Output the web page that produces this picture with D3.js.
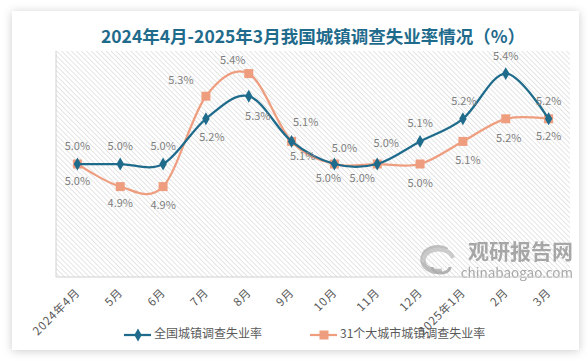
<html>
    <head>
        <title>城镇调查失业率</title>
        <style>
            body { margin: 0; background: #ffffff; }
            text { font-family: "Noto Sans CJK SC", "Noto Sans", sans-serif; }
        </style>
    </head>
    <body>
        <svg></svg>

        <script src="https://d3js.org/d3.v7.min.js"></script>
        <script>
// data
var months = ["2024年4月", "5月", "6月", "7月", "8月", "9月", "10月", "11月", "12月", "2025年1月", "2月", "3月"];
var national = [5.0, 5.0, 5.0, 5.2, 5.3, 5.1, 5.0, 5.0, 5.1, 5.2, 5.4, 5.2];
var bigCities = [5.0, 4.9, 4.9, 5.3, 5.4, 5.1, 5.0, 5.0, 5.0, 5.1, 5.2, 5.2];
var seriesNames = ["全国城镇调查失业率", "31个大城市城镇调查失业率"];

// label placement (dx, dy from the marker)
var nationalLabelPos = [[0,-17],[0,-17],[0,-17],[6,19],[9,21],[14,-18],[10,-15],[9,-20],[0,-17],[1,-17],[0,-17],[0,-17]];
var citiesLabelPos = [[0,18],[0,17],[0,19],[-25,-15],[-16,-13],[11,16],[-6,15],[-15,15],[0,20],[5,20],[3,20],[0,18]];

var blue = "#1f6b8c", orange = "#ee9e7f";

var svg = d3.select("svg")
    .attr("width", 588)
    .attr("height", 361);

var defs = svg.append("defs");

var shadow = defs.append("filter").attr("id", "shadow")
    .attr("x", "-10%").attr("y", "-10%").attr("width", "120%").attr("height", "120%");
shadow.append("feDropShadow")
    .attr("dx", 0).attr("dy", 1)
    .attr("stdDeviation", 5)
    .attr("flood-color", "#000")
    .attr("flood-opacity", 0.2);

var hatch = defs.append("pattern").attr("id", "hatch")
    .attr("patternUnits", "userSpaceOnUse")
    .attr("width", 3.5).attr("height", 3.5)
    .attr("patternTransform", "rotate(-45)");
hatch.append("rect").attr("width", 3.5).attr("height", 3.5).attr("fill", "#fff");
hatch.append("line")
    .attr("x1", 0).attr("y1", 0).attr("x2", 0).attr("y2", 3.5)
    .attr("stroke", "#d4d4d4").attr("stroke-width", 1.2);

// card
svg.append("rect")
    .attr("x", 12).attr("y", 11)
    .attr("width", 567).attr("height", 339)
    .attr("fill", "#fff")
    .attr("filter", "url(#shadow)");

// title
svg.append("text")
    .attr("x", 313).attr("y", 38)
    .attr("text-anchor", "middle")
    .attr("dominant-baseline", "middle")
    .attr("font-size", 17.5)
    .attr("font-weight", "bold")
    .attr("font-family", "Liberation Serif, Noto Sans CJK SC, serif")
    .attr("fill", blue)
    .text("2024年4月-2025年3月我国城镇调查失业率情况（%）");

var plotLeft = 56, plotRight = 570, plotTop = 51, plotBottom = 277;

var x = d3.scalePoint()
    .domain(months)
    .range([plotLeft, plotRight])
    .padding(0.5);

var y = d3.scaleLinear()
    .domain([4.5, 5.5])
    .range([plotBottom, plotTop]);

// plot area
svg.append("rect")
    .attr("x", plotLeft).attr("y", plotTop)
    .attr("width", plotRight - plotLeft).attr("height", plotBottom - plotTop)
    .attr("fill", "url(#hatch)");

svg.append("line")
    .attr("x1", plotLeft).attr("x2", plotLeft)
    .attr("y1", plotTop).attr("y2", plotBottom)
    .attr("stroke", "#d0d0d0");

// watermark
var wm = svg.append("g").attr("opacity", 0.75);
wm.append("path")
    .attr("d", "M447,250 A15,12 0 1,0 442,271")
    .attr("fill", "none").attr("stroke", "#aaa").attr("stroke-width", 5);
wm.append("path")
    .attr("d", "M424,262 A14,10 0 0,1 453,258")
    .attr("fill", "none").attr("stroke", "#bbb").attr("stroke-width", 4);
wm.append("path")
    .attr("d", "M432,267 A9,6 0 0,0 450,267")
    .attr("fill", "none").attr("stroke", "#999").attr("stroke-width", 3);
wm.append("text")
    .attr("x", 573).attr("y", 253)
    .attr("text-anchor", "end")
    .attr("dominant-baseline", "middle")
    .attr("font-size", 21)
    .attr("font-weight", "bold")
    .attr("fill", "#8c8c8c")
    .text("观研报告网");
wm.append("text")
    .attr("x", 573).attr("y", 274)
    .attr("text-anchor", "end")
    .attr("dominant-baseline", "middle")
    .attr("font-size", 13.5)
    .attr("font-family", "DejaVu Sans Mono, monospace")
    .attr("fill", "#8c8c8c")
    .text("chinabaogao.com");

// x axis
svg.append("line")
    .attr("x1", plotLeft).attr("x2", plotRight)
    .attr("y1", plotBottom).attr("y2", plotBottom)
    .attr("stroke", "#d0d0d0");

svg.selectAll(".xlabel")
    .data(months).enter()
    .append("text")
    .attr("class", "xlabel")
    .attr("transform", function(d) {
        return "translate(" + (x(d) + 1) + "," + (plotBottom + 14) + ") rotate(-45)";
    })
    .attr("text-anchor", "end")
    .attr("dominant-baseline", "middle")
    .attr("font-size", 11.5)
    .attr("letter-spacing", 0.8)
    .attr("fill", "#595959")
    .text(function(d) { return d; });

var line = d3.line()
    .x(function(d, i) { return x(months[i]); })
    .y(function(d) { return y(d); })
    .curve(d3.curveCatmullRom.alpha(0));

var diamond = d3.symbol().type(d3.symbolDiamond).size(48);

// 31 cities
svg.append("path")
    .datum(bigCities)
    .attr("d", line)
    .attr("fill", "none")
    .attr("stroke", orange)
    .attr("stroke-width", 2.25);

svg.selectAll(".sq")
    .data(bigCities).enter()
    .append("rect")
    .attr("class", "sq")
    .attr("x", function(d, i) { return x(months[i]) - 4.5; })
    .attr("y", function(d) { return y(d) - 4.5; })
    .attr("width", 9).attr("height", 9)
    .attr("fill", orange);

// national
svg.append("path")
    .datum(national)
    .attr("d", line)
    .attr("fill", "none")
    .attr("stroke", blue)
    .attr("stroke-width", 2.25);

svg.selectAll(".dm")
    .data(national).enter()
    .append("path")
    .attr("class", "dm")
    .attr("transform", function(d, i) {
        return "translate(" + x(months[i]) + "," + y(d) + ")";
    })
    .attr("d", diamond)
    .attr("fill", blue);

// data labels
function addLabels(values, pos, cls) {
    svg.selectAll("." + cls)
        .data(values).enter()
        .append("text")
        .attr("class", cls)
        .attr("x", function(d, i) { return x(months[i]) + pos[i][0]; })
        .attr("y", function(d, i) { return y(d) + pos[i][1]; })
        .attr("text-anchor", "middle")
        .attr("dominant-baseline", "middle")
        .attr("font-size", 11)
        .attr("font-family", "Open Sans, Noto Sans, sans-serif")
        .attr("fill", "#7f7f7f")
        .text(function(d) { return d.toFixed(1) + "%"; });
}
addLabels(national, nationalLabelPos, "lbN");
addLabels(bigCities, citiesLabelPos, "lbC");

// legend
var legend = [
    {name: seriesNames[0], color: blue, x: 124},
    {name: seriesNames[1], color: orange, x: 310}
];
var lg = svg.selectAll(".legend")
    .data(legend).enter()
    .append("g")
    .attr("class", "legend")
    .attr("transform", function(d) { return "translate(" + d.x + ",335)"; });

lg.append("line")
    .attr("x1", 0).attr("x2", 27)
    .attr("stroke", function(d) { return d.color; })
    .attr("stroke-width", 2.25);

lg.each(function(d, i) {
    var g = d3.select(this);
    if (i == 0) {
        g.append("path").attr("transform", "translate(14,0)")
            .attr("d", diamond).attr("fill", d.color);
    } else {
        g.append("rect").attr("x", 9.5).attr("y", -4.5)
            .attr("width", 9).attr("height", 9).attr("fill", d.color);
    }
});

lg.append("text")
    .attr("x", 30)
    .attr("dominant-baseline", "middle")
    .attr("font-size", 12)
    .attr("fill", "#595959")
    .text(function(d) { return d.name; });
        </script>
    </body>
</html>
